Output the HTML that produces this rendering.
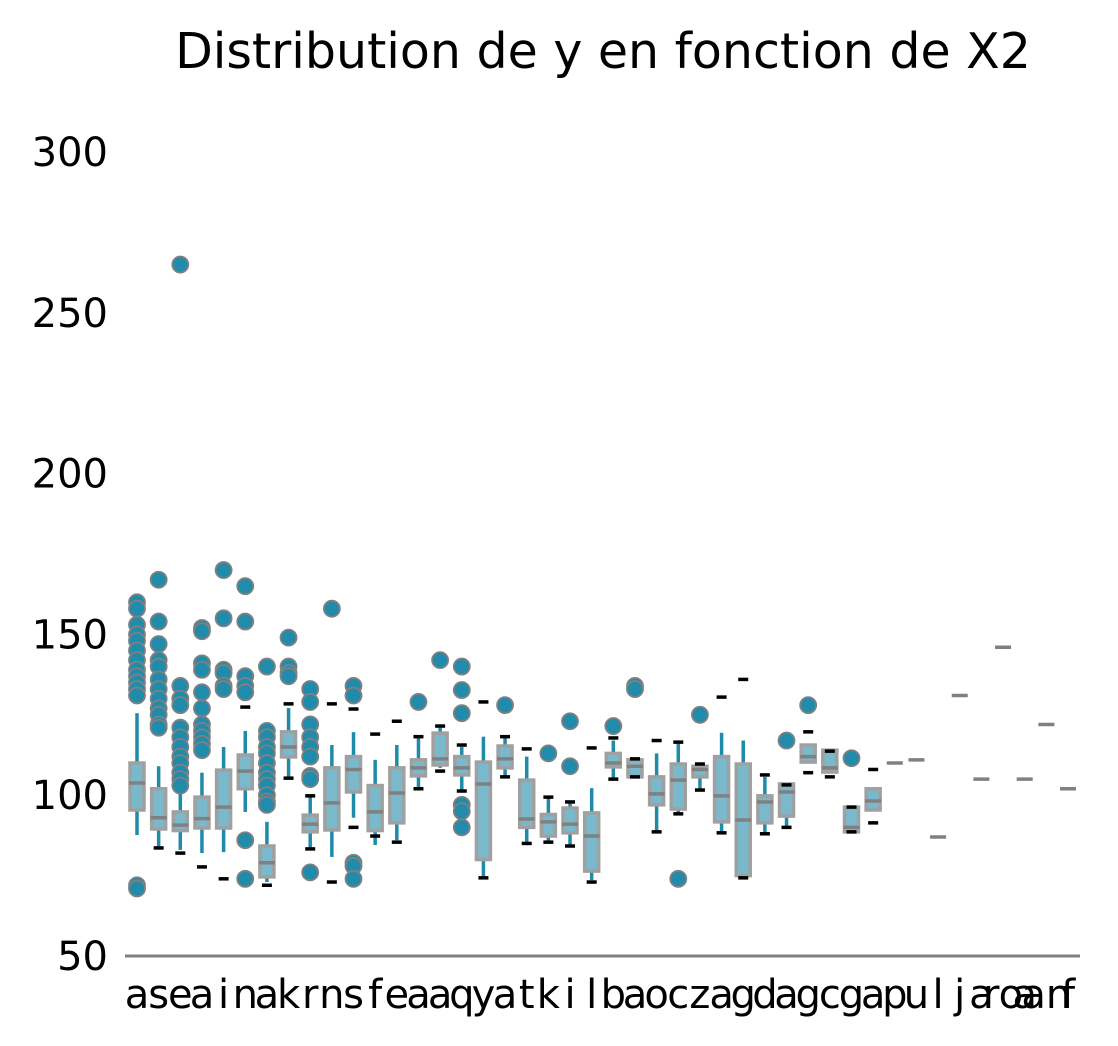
<!DOCTYPE html>
<html><head><meta charset="utf-8">
<style>
html,body{margin:0;padding:0;background:#fff;}
svg{display:block;font-family:"DejaVu Sans","Liberation Sans",sans-serif;}
</style></head>
<body>
<svg id="chart" width="1118" height="1046" viewBox="0 0 1118 1046">
<text x="603" y="68" font-size="49" text-anchor="middle">Distribution de y en fonction de X2</text>
<line x1="125" x2="1080" y1="956" y2="956" stroke="#808080" stroke-width="3"/>
<g id="yticks"></g>
<g id="xticks"></g>
<g id="boxes"></g>
</svg>
<script>
const categories = ["a","s","e","a","i","n","a","k","r","n","s","f","e","a","a","q","y","a","t","k","i","l","b","a","o","c","z","a","g","d","a","g","c","g","a","p","u","l","j","a","ro","a","an","f"];
const q1s  = [95.4,89.5,89,89.8,89.8,102,74.6,111.9,88.6,89.2,101,89,91.4,106,109.4,106.3,80,108.5,90,87.3,88.3,76.4,108.8,105.7,97,95.7,105.7,91.7,75,91.4,93.5,110.3,107.2,88.6,95.4,110,111,87,131,105,146,105,122,102];
const meds = [103.8,93,90.7,92.7,96.3,107.5,79,115,91,97.6,108,94.8,100.7,108.5,111.3,108.5,103.5,111.3,92.6,91.7,91,87.3,110,109,100.4,104.7,108,99.8,92.3,97.9,101,112,108.5,90,98.2,110,111,87,131,105,146,105,122,102];
const q3s  = [110,102,94.8,99.4,107.8,112.5,84.2,119.7,93.8,108.5,112,103,108.5,111,119.3,112,110.3,115.3,104.7,94,96,94.5,113,111,105.7,109.7,109,112,109.7,99.8,103.5,115.6,114,96.3,102,110,111,87,131,105,146,105,122,102];
const wlos = [87.6,84,83,82,82.3,94.8,73,105.7,83.6,80.8,93,84.5,86,102,108.5,101.6,74,105.7,85,85.4,84.5,73.6,105,105.7,88.6,94.5,101.6,88.3,74.5,88,90,110.3,107.2,88.6,95.4,null,null,null,null,null,null,null,null,null];
const whis = [125.5,109,100.7,107,115,120,91.7,127.1,100,115.6,119.6,111,115.6,117.8,121,115,118.2,118.2,112,99,97.6,102.2,117,111,113,116,109,119.4,117,105.7,103.5,115.6,114,96.3,102,null,null,null,null,null,null,null,null,null];
const capLos = [null,83.6,82,77.7,74,127.4,72,105.3,83.3,73,90,87.3,85.4,102,107.5,101.3,74.3,105.7,85,85.4,84.2,73,105,105.7,88.6,94.2,101.6,88.3,74.3,88,90,107,105.7,88.6,91.4,null,null,null,null,null,null,null,null,null];
const capHis = [null,null,null,null,null,null,null,128.4,99.8,128.4,126.8,119,123,118.2,121.5,115.6,129,118.2,114.4,99.4,97.9,114.7,117.8,111.3,117,116.5,109.7,130.5,136,106.3,103.2,119.7,113.7,96.3,108,null,null,null,null,null,null,null,null,null];
const outliers = [
 [160,158,153,150,148,145,142,139,137,135,133,131,72,71],
 [167,154,147,142,140,136,133,130,127,125,122,121],
 [265,134,130,128,121,118,115,112,110,107,105,103],
 [152,151,141,139,132,127,122,120,118,116,114],
 [170,155,139,138,134,133],
 [165,154,137,134,132,86,74],
 [140,120,118,115,113,110,107,105,103,100,98,97],
 [149,140,138,137],
 [133,129,122,118,115,112,106,105,76],
 [158],
 [134,131,79,78,74],
 [],[],[129],[142],[140,132.7,125.5,97,95,90],[],[128],[],[113],[123,109],[],[121.5],[134,133],[],[74],[125],[],[],[],[117],[128],[],[111.5],[],
 [],[],[],[],[],[],[],[],[]
];
const yTicks = [50,100,150,200,250,300];

const NS="http://www.w3.org/2000/svg";
const x0=137, x1=1068;
function xs(i){return x0+(x1-x0)*i/(categories.length-1);}
function ys(v){return 956-(v-50)*804/250;}
function mk(tag,attrs,parent){const e=document.createElementNS(NS,tag);for(const k in attrs)e.setAttribute(k,attrs[k]);parent.appendChild(e);return e;}

const yg=document.getElementById('yticks');
yTicks.forEach(t=>{
  const e=mk('text',{x:108,y:ys(t)+14,'font-size':40,'text-anchor':'end'},yg);
  
  
  e.textContent=t;
});
const xg=document.getElementById('xticks');
categories.forEach((c,i)=>{
  const e=mk('text',{x:xs(i),y:1008,'font-size':40,'text-anchor':'middle'},xg);
  
  
  e.textContent=c;
});
const bg=document.getElementById('boxes');
categories.forEach((c,i)=>{
  const x=xs(i);
  const g=mk('g',{},bg);
  
  
  const single = (q1s[i]===q3s[i]);
  if(!single){
    if(wlos[i]!==null){
      const w=mk('line',{x1:x,x2:x,y1:ys(q1s[i]),y2:ys(wlos[i]),stroke:'#1f8ba9','stroke-width':3.5},g);
      
      
    }
    if(whis[i]!==null){
      const w=mk('line',{x1:x,x2:x,y1:ys(q3s[i]),y2:ys(whis[i]),stroke:'#1f8ba9','stroke-width':3.5},g);
      
      
    }
    const r=mk('rect',{x:x-7,y:ys(q3s[i]),width:14,height:ys(q1s[i])-ys(q3s[i]),fill:'#7ab9cc',stroke:'#a0a0a0','stroke-width':3.5},g);
    
    
  }
  [capLos[i],capHis[i]].forEach(cv=>{
    if(cv===null)return;
    const cp=mk('line',{x1:x-5,x2:x+5,y1:ys(cv),y2:ys(cv),stroke:'#000','stroke-width':3.5},g);
    
    
  });
  const m=mk('line',{x1:x-8,x2:x+8,y1:ys(meds[i]),y2:ys(meds[i]),stroke:'#808080','stroke-width':3.5},g);
  
  
  outliers[i].forEach(v=>{
    const o=mk('circle',{cx:x,cy:ys(v),r:8,fill:'#208bab',stroke:'#808080','stroke-width':1.8},g);
    
    
  });
});
</script>
</body></html>
